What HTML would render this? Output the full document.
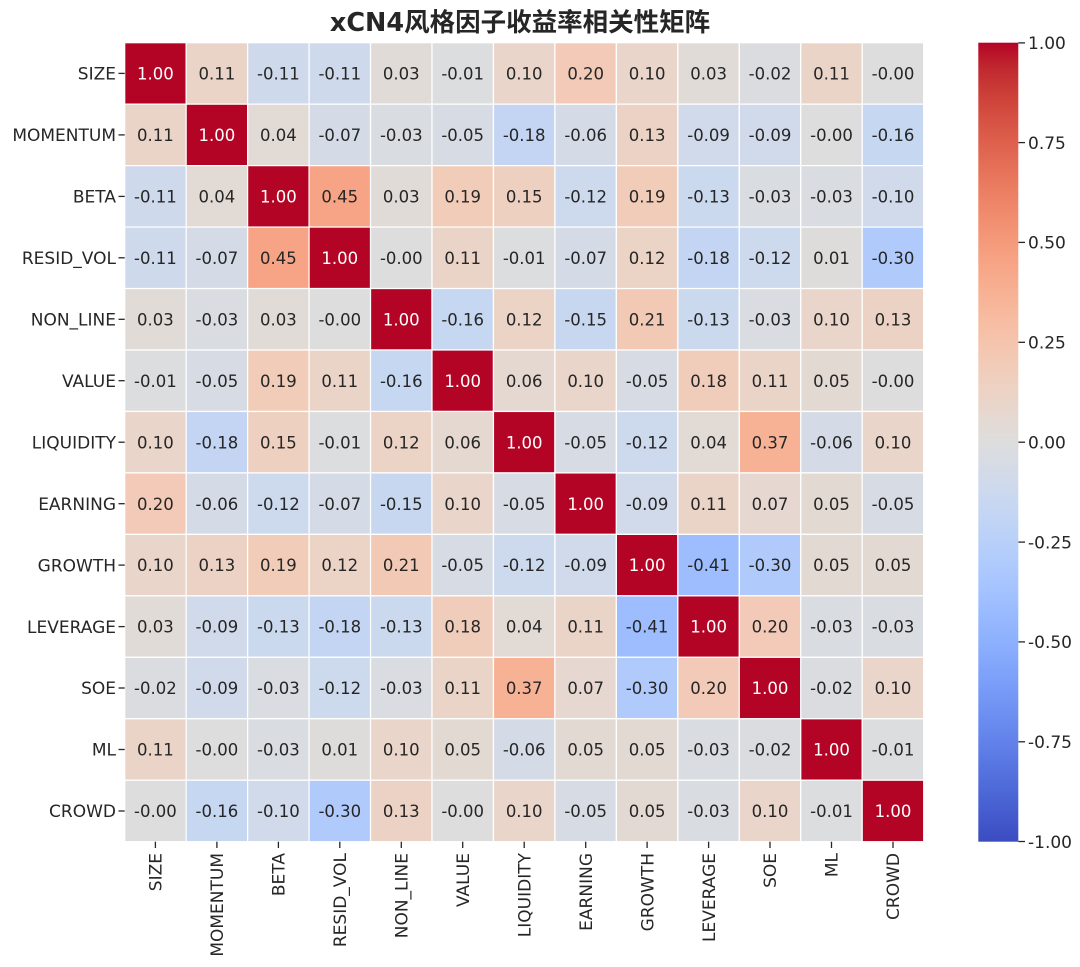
<!DOCTYPE html>
<html><head><meta charset="utf-8"><style>
html,body{margin:0;padding:0;background:#fff;}
svg{display:block;}
text{font-family:"DejaVu Sans","Noto Sans CJK SC",sans-serif;fill:#262626;}
.an text{font-size:16.5px;text-anchor:middle;}
.an text.w{fill:#fff;}
.yl text{font-size:17px;text-anchor:end;}
.xl text{font-size:17px;text-anchor:end;}
.cb text{font-size:17px;text-anchor:start;}
</style></head><body>
<svg width="1080" height="967" viewBox="0 0 1080 967" xmlns="http://www.w3.org/2000/svg">
<defs>
<linearGradient id="cw" x1="0" y1="0" x2="0" y2="1">
<stop offset="0%" stop-color="#b40426"/><stop offset="3.125%" stop-color="#c0282f"/><stop offset="6.25%" stop-color="#cb3e38"/><stop offset="9.375%" stop-color="#d55042"/><stop offset="12.5%" stop-color="#de604d"/><stop offset="15.625%" stop-color="#e57058"/><stop offset="18.75%" stop-color="#ec7f63"/><stop offset="21.875%" stop-color="#f18d6f"/><stop offset="25%" stop-color="#f49a7b"/><stop offset="28.125%" stop-color="#f7a687"/><stop offset="31.25%" stop-color="#f7b194"/><stop offset="34.375%" stop-color="#f7bba0"/><stop offset="37.5%" stop-color="#f5c4ad"/><stop offset="40.625%" stop-color="#f1ccb9"/><stop offset="43.75%" stop-color="#ecd3c5"/><stop offset="46.875%" stop-color="#e5d8d1"/><stop offset="50%" stop-color="#dddddd"/><stop offset="53.125%" stop-color="#d5dbe6"/><stop offset="56.25%" stop-color="#ccd9ee"/><stop offset="59.375%" stop-color="#c2d5f4"/><stop offset="62.5%" stop-color="#b8d0f9"/><stop offset="65.625%" stop-color="#aec9fd"/><stop offset="68.75%" stop-color="#a3c2ff"/><stop offset="71.875%" stop-color="#98b9ff"/><stop offset="75%" stop-color="#8db0fe"/><stop offset="78.125%" stop-color="#82a5fb"/><stop offset="81.25%" stop-color="#779af7"/><stop offset="84.375%" stop-color="#6c8ef1"/><stop offset="87.5%" stop-color="#6282ea"/><stop offset="90.625%" stop-color="#5775e1"/><stop offset="93.75%" stop-color="#4d68d7"/><stop offset="96.875%" stop-color="#445acc"/><stop offset="100%" stop-color="#3b4cc0"/>
</linearGradient>
</defs>
<rect x="0" y="0" width="1080" height="967" fill="#fff"/>

<text x="520" y="31" font-size="25.5" font-weight="700" text-anchor="middle">xCN4风格因子收益率相关性矩阵</text>

<g transform="translate(124.7 42.7) scale(61.46)" stroke="#fff" stroke-width="0.02">
<g transform="translate(0 0)"><rect x="0" y="0" width="1" height="1" fill="#b40426"/><rect x="1" y="0" width="1" height="1" fill="#ead4c8"/><rect x="2" y="0" width="1" height="1" fill="#ced9ec"/><rect x="3" y="0" width="1" height="1" fill="#ced9ec"/><rect x="4" y="0" width="1" height="1" fill="#e1dbd7"/><rect x="5" y="0" width="1" height="1" fill="#dcddde"/><rect x="6" y="0" width="1" height="1" fill="#e9d5ca"/><rect x="7" y="0" width="1" height="1" fill="#f2cab7"/><rect x="8" y="0" width="1" height="1" fill="#e9d5ca"/><rect x="9" y="0" width="1" height="1" fill="#e1dbd7"/><rect x="10" y="0" width="1" height="1" fill="#dadce0"/><rect x="11" y="0" width="1" height="1" fill="#ead4c8"/><rect x="12" y="0" width="1" height="1" fill="#dddddd"/></g>
<g transform="translate(0 1)"><rect x="0" y="0" width="1" height="1" fill="#ead4c8"/><rect x="1" y="0" width="1" height="1" fill="#b40426"/><rect x="2" y="0" width="1" height="1" fill="#e2dad5"/><rect x="3" y="0" width="1" height="1" fill="#d4dbe7"/><rect x="4" y="0" width="1" height="1" fill="#d9dce1"/><rect x="5" y="0" width="1" height="1" fill="#d7dbe4"/><rect x="6" y="0" width="1" height="1" fill="#c3d5f3"/><rect x="7" y="0" width="1" height="1" fill="#d5dbe6"/><rect x="8" y="0" width="1" height="1" fill="#ecd2c4"/><rect x="9" y="0" width="1" height="1" fill="#d1daea"/><rect x="10" y="0" width="1" height="1" fill="#d1daea"/><rect x="11" y="0" width="1" height="1" fill="#dddddd"/><rect x="12" y="0" width="1" height="1" fill="#c6d7f1"/></g>
<g transform="translate(0 2)"><rect x="0" y="0" width="1" height="1" fill="#ced9ec"/><rect x="1" y="0" width="1" height="1" fill="#e2dad5"/><rect x="2" y="0" width="1" height="1" fill="#b40426"/><rect x="3" y="0" width="1" height="1" fill="#f6a485"/><rect x="4" y="0" width="1" height="1" fill="#e1dbd7"/><rect x="5" y="0" width="1" height="1" fill="#f1ccb8"/><rect x="6" y="0" width="1" height="1" fill="#eed0c0"/><rect x="7" y="0" width="1" height="1" fill="#cdd9ed"/><rect x="8" y="0" width="1" height="1" fill="#f1ccb8"/><rect x="9" y="0" width="1" height="1" fill="#cbd9ee"/><rect x="10" y="0" width="1" height="1" fill="#d9dce1"/><rect x="11" y="0" width="1" height="1" fill="#d9dce1"/><rect x="12" y="0" width="1" height="1" fill="#d0daeb"/></g>
<g transform="translate(0 3)"><rect x="0" y="0" width="1" height="1" fill="#ced9ec"/><rect x="1" y="0" width="1" height="1" fill="#d4dbe7"/><rect x="2" y="0" width="1" height="1" fill="#f6a485"/><rect x="3" y="0" width="1" height="1" fill="#b40426"/><rect x="4" y="0" width="1" height="1" fill="#dddddd"/><rect x="5" y="0" width="1" height="1" fill="#ead4c8"/><rect x="6" y="0" width="1" height="1" fill="#dcddde"/><rect x="7" y="0" width="1" height="1" fill="#d4dbe7"/><rect x="8" y="0" width="1" height="1" fill="#ebd3c6"/><rect x="9" y="0" width="1" height="1" fill="#c3d5f3"/><rect x="10" y="0" width="1" height="1" fill="#cdd9ed"/><rect x="11" y="0" width="1" height="1" fill="#dedcdb"/><rect x="12" y="0" width="1" height="1" fill="#b0cafc"/></g>
<g transform="translate(0 4)"><rect x="0" y="0" width="1" height="1" fill="#e1dbd7"/><rect x="1" y="0" width="1" height="1" fill="#d9dce1"/><rect x="2" y="0" width="1" height="1" fill="#e1dbd7"/><rect x="3" y="0" width="1" height="1" fill="#dddddd"/><rect x="4" y="0" width="1" height="1" fill="#b40426"/><rect x="5" y="0" width="1" height="1" fill="#c6d7f1"/><rect x="6" y="0" width="1" height="1" fill="#ebd3c6"/><rect x="7" y="0" width="1" height="1" fill="#c8d7f0"/><rect x="8" y="0" width="1" height="1" fill="#f2c9b5"/><rect x="9" y="0" width="1" height="1" fill="#cbd9ee"/><rect x="10" y="0" width="1" height="1" fill="#d9dce1"/><rect x="11" y="0" width="1" height="1" fill="#e9d5ca"/><rect x="12" y="0" width="1" height="1" fill="#ecd2c4"/></g>
<g transform="translate(0 5)"><rect x="0" y="0" width="1" height="1" fill="#dcddde"/><rect x="1" y="0" width="1" height="1" fill="#d7dbe4"/><rect x="2" y="0" width="1" height="1" fill="#f1ccb8"/><rect x="3" y="0" width="1" height="1" fill="#ead4c8"/><rect x="4" y="0" width="1" height="1" fill="#c6d7f1"/><rect x="5" y="0" width="1" height="1" fill="#b40426"/><rect x="6" y="0" width="1" height="1" fill="#e5d8d1"/><rect x="7" y="0" width="1" height="1" fill="#e9d5ca"/><rect x="8" y="0" width="1" height="1" fill="#d7dbe4"/><rect x="9" y="0" width="1" height="1" fill="#f0cdba"/><rect x="10" y="0" width="1" height="1" fill="#ead4c8"/><rect x="11" y="0" width="1" height="1" fill="#e3d9d3"/><rect x="12" y="0" width="1" height="1" fill="#dddddd"/></g>
<g transform="translate(0 6)"><rect x="0" y="0" width="1" height="1" fill="#e9d5ca"/><rect x="1" y="0" width="1" height="1" fill="#c3d5f3"/><rect x="2" y="0" width="1" height="1" fill="#eed0c0"/><rect x="3" y="0" width="1" height="1" fill="#dcddde"/><rect x="4" y="0" width="1" height="1" fill="#ebd3c6"/><rect x="5" y="0" width="1" height="1" fill="#e5d8d1"/><rect x="6" y="0" width="1" height="1" fill="#b40426"/><rect x="7" y="0" width="1" height="1" fill="#d7dbe4"/><rect x="8" y="0" width="1" height="1" fill="#cdd9ed"/><rect x="9" y="0" width="1" height="1" fill="#e2dad5"/><rect x="10" y="0" width="1" height="1" fill="#f7b295"/><rect x="11" y="0" width="1" height="1" fill="#d5dbe6"/><rect x="12" y="0" width="1" height="1" fill="#e9d5ca"/></g>
<g transform="translate(0 7)"><rect x="0" y="0" width="1" height="1" fill="#f2cab7"/><rect x="1" y="0" width="1" height="1" fill="#d5dbe6"/><rect x="2" y="0" width="1" height="1" fill="#cdd9ed"/><rect x="3" y="0" width="1" height="1" fill="#d4dbe7"/><rect x="4" y="0" width="1" height="1" fill="#c8d7f0"/><rect x="5" y="0" width="1" height="1" fill="#e9d5ca"/><rect x="6" y="0" width="1" height="1" fill="#d7dbe4"/><rect x="7" y="0" width="1" height="1" fill="#b40426"/><rect x="8" y="0" width="1" height="1" fill="#d1daea"/><rect x="9" y="0" width="1" height="1" fill="#ead4c8"/><rect x="10" y="0" width="1" height="1" fill="#e6d7d0"/><rect x="11" y="0" width="1" height="1" fill="#e3d9d3"/><rect x="12" y="0" width="1" height="1" fill="#d7dbe4"/></g>
<g transform="translate(0 8)"><rect x="0" y="0" width="1" height="1" fill="#e9d5ca"/><rect x="1" y="0" width="1" height="1" fill="#ecd2c4"/><rect x="2" y="0" width="1" height="1" fill="#f1ccb8"/><rect x="3" y="0" width="1" height="1" fill="#ebd3c6"/><rect x="4" y="0" width="1" height="1" fill="#f2c9b5"/><rect x="5" y="0" width="1" height="1" fill="#d7dbe4"/><rect x="6" y="0" width="1" height="1" fill="#cdd9ed"/><rect x="7" y="0" width="1" height="1" fill="#d1daea"/><rect x="8" y="0" width="1" height="1" fill="#b40426"/><rect x="9" y="0" width="1" height="1" fill="#9dbdff"/><rect x="10" y="0" width="1" height="1" fill="#b0cafc"/><rect x="11" y="0" width="1" height="1" fill="#e3d9d3"/><rect x="12" y="0" width="1" height="1" fill="#e3d9d3"/></g>
<g transform="translate(0 9)"><rect x="0" y="0" width="1" height="1" fill="#e1dbd7"/><rect x="1" y="0" width="1" height="1" fill="#d1daea"/><rect x="2" y="0" width="1" height="1" fill="#cbd9ee"/><rect x="3" y="0" width="1" height="1" fill="#c3d5f3"/><rect x="4" y="0" width="1" height="1" fill="#cbd9ee"/><rect x="5" y="0" width="1" height="1" fill="#f0cdba"/><rect x="6" y="0" width="1" height="1" fill="#e2dad5"/><rect x="7" y="0" width="1" height="1" fill="#ead4c8"/><rect x="8" y="0" width="1" height="1" fill="#9dbdff"/><rect x="9" y="0" width="1" height="1" fill="#b40426"/><rect x="10" y="0" width="1" height="1" fill="#f2cab7"/><rect x="11" y="0" width="1" height="1" fill="#d9dce1"/><rect x="12" y="0" width="1" height="1" fill="#d9dce1"/></g>
<g transform="translate(0 10)"><rect x="0" y="0" width="1" height="1" fill="#dadce0"/><rect x="1" y="0" width="1" height="1" fill="#d1daea"/><rect x="2" y="0" width="1" height="1" fill="#d9dce1"/><rect x="3" y="0" width="1" height="1" fill="#cdd9ed"/><rect x="4" y="0" width="1" height="1" fill="#d9dce1"/><rect x="5" y="0" width="1" height="1" fill="#ead4c8"/><rect x="6" y="0" width="1" height="1" fill="#f7b295"/><rect x="7" y="0" width="1" height="1" fill="#e6d7d0"/><rect x="8" y="0" width="1" height="1" fill="#b0cafc"/><rect x="9" y="0" width="1" height="1" fill="#f2cab7"/><rect x="10" y="0" width="1" height="1" fill="#b40426"/><rect x="11" y="0" width="1" height="1" fill="#dadce0"/><rect x="12" y="0" width="1" height="1" fill="#e9d5ca"/></g>
<g transform="translate(0 11)"><rect x="0" y="0" width="1" height="1" fill="#ead4c8"/><rect x="1" y="0" width="1" height="1" fill="#dddddd"/><rect x="2" y="0" width="1" height="1" fill="#d9dce1"/><rect x="3" y="0" width="1" height="1" fill="#dedcdb"/><rect x="4" y="0" width="1" height="1" fill="#e9d5ca"/><rect x="5" y="0" width="1" height="1" fill="#e3d9d3"/><rect x="6" y="0" width="1" height="1" fill="#d5dbe6"/><rect x="7" y="0" width="1" height="1" fill="#e3d9d3"/><rect x="8" y="0" width="1" height="1" fill="#e3d9d3"/><rect x="9" y="0" width="1" height="1" fill="#d9dce1"/><rect x="10" y="0" width="1" height="1" fill="#dadce0"/><rect x="11" y="0" width="1" height="1" fill="#b40426"/><rect x="12" y="0" width="1" height="1" fill="#dcddde"/></g>
<g transform="translate(0 12)"><rect x="0" y="0" width="1" height="1" fill="#dddddd"/><rect x="1" y="0" width="1" height="1" fill="#c6d7f1"/><rect x="2" y="0" width="1" height="1" fill="#d0daeb"/><rect x="3" y="0" width="1" height="1" fill="#b0cafc"/><rect x="4" y="0" width="1" height="1" fill="#ecd2c4"/><rect x="5" y="0" width="1" height="1" fill="#dddddd"/><rect x="6" y="0" width="1" height="1" fill="#e9d5ca"/><rect x="7" y="0" width="1" height="1" fill="#d7dbe4"/><rect x="8" y="0" width="1" height="1" fill="#e3d9d3"/><rect x="9" y="0" width="1" height="1" fill="#d9dce1"/><rect x="10" y="0" width="1" height="1" fill="#e9d5ca"/><rect x="11" y="0" width="1" height="1" fill="#dcddde"/><rect x="12" y="0" width="1" height="1" fill="#b40426"/></g>
</g>

<g class="an">
<g transform="translate(0 79.5)"><text x="155.4" class="w">1.00</text><text x="216.9">0.11</text><text x="278.4">-0.11</text><text x="339.8">-0.11</text><text x="401.3">0.03</text><text x="462.7">-0.01</text><text x="524.2">0.10</text><text x="585.7">0.20</text><text x="647.1">0.10</text><text x="708.6">0.03</text><text x="770.0">-0.02</text><text x="831.5">0.11</text><text x="893.0">-0.00</text></g>
<g transform="translate(0 141.0)"><text x="155.4">0.11</text><text x="216.9" class="w">1.00</text><text x="278.4">0.04</text><text x="339.8">-0.07</text><text x="401.3">-0.03</text><text x="462.7">-0.05</text><text x="524.2">-0.18</text><text x="585.7">-0.06</text><text x="647.1">0.13</text><text x="708.6">-0.09</text><text x="770.0">-0.09</text><text x="831.5">-0.00</text><text x="893.0">-0.16</text></g>
<g transform="translate(0 202.5)"><text x="155.4">-0.11</text><text x="216.9">0.04</text><text x="278.4" class="w">1.00</text><text x="339.8">0.45</text><text x="401.3">0.03</text><text x="462.7">0.19</text><text x="524.2">0.15</text><text x="585.7">-0.12</text><text x="647.1">0.19</text><text x="708.6">-0.13</text><text x="770.0">-0.03</text><text x="831.5">-0.03</text><text x="893.0">-0.10</text></g>
<g transform="translate(0 263.9)"><text x="155.4">-0.11</text><text x="216.9">-0.07</text><text x="278.4">0.45</text><text x="339.8" class="w">1.00</text><text x="401.3">-0.00</text><text x="462.7">0.11</text><text x="524.2">-0.01</text><text x="585.7">-0.07</text><text x="647.1">0.12</text><text x="708.6">-0.18</text><text x="770.0">-0.12</text><text x="831.5">0.01</text><text x="893.0">-0.30</text></g>
<g transform="translate(0 325.4)"><text x="155.4">0.03</text><text x="216.9">-0.03</text><text x="278.4">0.03</text><text x="339.8">-0.00</text><text x="401.3" class="w">1.00</text><text x="462.7">-0.16</text><text x="524.2">0.12</text><text x="585.7">-0.15</text><text x="647.1">0.21</text><text x="708.6">-0.13</text><text x="770.0">-0.03</text><text x="831.5">0.10</text><text x="893.0">0.13</text></g>
<g transform="translate(0 386.8)"><text x="155.4">-0.01</text><text x="216.9">-0.05</text><text x="278.4">0.19</text><text x="339.8">0.11</text><text x="401.3">-0.16</text><text x="462.7" class="w">1.00</text><text x="524.2">0.06</text><text x="585.7">0.10</text><text x="647.1">-0.05</text><text x="708.6">0.18</text><text x="770.0">0.11</text><text x="831.5">0.05</text><text x="893.0">-0.00</text></g>
<g transform="translate(0 448.3)"><text x="155.4">0.10</text><text x="216.9">-0.18</text><text x="278.4">0.15</text><text x="339.8">-0.01</text><text x="401.3">0.12</text><text x="462.7">0.06</text><text x="524.2" class="w">1.00</text><text x="585.7">-0.05</text><text x="647.1">-0.12</text><text x="708.6">0.04</text><text x="770.0">0.37</text><text x="831.5">-0.06</text><text x="893.0">0.10</text></g>
<g transform="translate(0 509.8)"><text x="155.4">0.20</text><text x="216.9">-0.06</text><text x="278.4">-0.12</text><text x="339.8">-0.07</text><text x="401.3">-0.15</text><text x="462.7">0.10</text><text x="524.2">-0.05</text><text x="585.7" class="w">1.00</text><text x="647.1">-0.09</text><text x="708.6">0.11</text><text x="770.0">0.07</text><text x="831.5">0.05</text><text x="893.0">-0.05</text></g>
<g transform="translate(0 571.2)"><text x="155.4">0.10</text><text x="216.9">0.13</text><text x="278.4">0.19</text><text x="339.8">0.12</text><text x="401.3">0.21</text><text x="462.7">-0.05</text><text x="524.2">-0.12</text><text x="585.7">-0.09</text><text x="647.1" class="w">1.00</text><text x="708.6">-0.41</text><text x="770.0">-0.30</text><text x="831.5">0.05</text><text x="893.0">0.05</text></g>
<g transform="translate(0 632.7)"><text x="155.4">0.03</text><text x="216.9">-0.09</text><text x="278.4">-0.13</text><text x="339.8">-0.18</text><text x="401.3">-0.13</text><text x="462.7">0.18</text><text x="524.2">0.04</text><text x="585.7">0.11</text><text x="647.1">-0.41</text><text x="708.6" class="w">1.00</text><text x="770.0">0.20</text><text x="831.5">-0.03</text><text x="893.0">-0.03</text></g>
<g transform="translate(0 694.1)"><text x="155.4">-0.02</text><text x="216.9">-0.09</text><text x="278.4">-0.03</text><text x="339.8">-0.12</text><text x="401.3">-0.03</text><text x="462.7">0.11</text><text x="524.2">0.37</text><text x="585.7">0.07</text><text x="647.1">-0.30</text><text x="708.6">0.20</text><text x="770.0" class="w">1.00</text><text x="831.5">-0.02</text><text x="893.0">0.10</text></g>
<g transform="translate(0 755.6)"><text x="155.4">0.11</text><text x="216.9">-0.00</text><text x="278.4">-0.03</text><text x="339.8">0.01</text><text x="401.3">0.10</text><text x="462.7">0.05</text><text x="524.2">-0.06</text><text x="585.7">0.05</text><text x="647.1">0.05</text><text x="708.6">-0.03</text><text x="770.0">-0.02</text><text x="831.5" class="w">1.00</text><text x="893.0">-0.01</text></g>
<g transform="translate(0 817.1)"><text x="155.4">-0.00</text><text x="216.9">-0.16</text><text x="278.4">-0.10</text><text x="339.8">-0.30</text><text x="401.3">0.13</text><text x="462.7">-0.00</text><text x="524.2">0.10</text><text x="585.7">-0.05</text><text x="647.1">0.05</text><text x="708.6">-0.03</text><text x="770.0">0.10</text><text x="831.5">-0.01</text><text x="893.0" class="w">1.00</text></g>
</g>

<g stroke="#262626" stroke-width="1.3">
<line x1="118.5" y1="73.4" x2="124.7" y2="73.4"/><line x1="118.5" y1="134.9" x2="124.7" y2="134.9"/><line x1="118.5" y1="196.4" x2="124.7" y2="196.4"/><line x1="118.5" y1="257.8" x2="124.7" y2="257.8"/><line x1="118.5" y1="319.3" x2="124.7" y2="319.3"/><line x1="118.5" y1="380.7" x2="124.7" y2="380.7"/><line x1="118.5" y1="442.2" x2="124.7" y2="442.2"/><line x1="118.5" y1="503.7" x2="124.7" y2="503.7"/><line x1="118.5" y1="565.1" x2="124.7" y2="565.1"/><line x1="118.5" y1="626.6" x2="124.7" y2="626.6"/><line x1="118.5" y1="688.0" x2="124.7" y2="688.0"/><line x1="118.5" y1="749.5" x2="124.7" y2="749.5"/><line x1="118.5" y1="811.0" x2="124.7" y2="811.0"/>
<line x1="155.4" y1="841.7" x2="155.4" y2="848"/><line x1="216.9" y1="841.7" x2="216.9" y2="848"/><line x1="278.4" y1="841.7" x2="278.4" y2="848"/><line x1="339.8" y1="841.7" x2="339.8" y2="848"/><line x1="401.3" y1="841.7" x2="401.3" y2="848"/><line x1="462.7" y1="841.7" x2="462.7" y2="848"/><line x1="524.2" y1="841.7" x2="524.2" y2="848"/><line x1="585.7" y1="841.7" x2="585.7" y2="848"/><line x1="647.1" y1="841.7" x2="647.1" y2="848"/><line x1="708.6" y1="841.7" x2="708.6" y2="848"/><line x1="770.0" y1="841.7" x2="770.0" y2="848"/><line x1="831.5" y1="841.7" x2="831.5" y2="848"/><line x1="893.0" y1="841.7" x2="893.0" y2="848"/>
<line x1="1018.3" y1="42.9" x2="1025" y2="42.9"/><line x1="1018.3" y1="142.6" x2="1025" y2="142.6"/><line x1="1018.3" y1="242.4" x2="1025" y2="242.4"/><line x1="1018.3" y1="342.3" x2="1025" y2="342.3"/><line x1="1018.3" y1="442.2" x2="1025" y2="442.2"/><line x1="1018.3" y1="542.1" x2="1025" y2="542.1"/><line x1="1018.3" y1="641.9" x2="1025" y2="641.9"/><line x1="1018.3" y1="741.8" x2="1025" y2="741.8"/><line x1="1018.3" y1="841.5" x2="1025" y2="841.5"/>
</g>

<g class="yl">
<text x="116" y="79.6">SIZE</text><text x="116" y="141.1">MOMENTUM</text><text x="116" y="202.6">BETA</text><text x="116" y="264.0">RESID_VOL</text><text x="116" y="325.5">NON_LINE</text><text x="116" y="386.9">VALUE</text><text x="116" y="448.4">LIQUIDITY</text><text x="116" y="509.9">EARNING</text><text x="116" y="571.3">GROWTH</text><text x="116" y="632.8">LEVERAGE</text><text x="116" y="694.2">SOE</text><text x="116" y="755.7">ML</text><text x="116" y="817.2">CROWD</text>
</g>

<g class="xl">
<text transform="translate(161.6 853) rotate(-90)">SIZE</text>
<text transform="translate(223.1 853) rotate(-90)">MOMENTUM</text>
<text transform="translate(284.6 853) rotate(-90)">BETA</text>
<text transform="translate(346.0 853) rotate(-90)">RESID_VOL</text>
<text transform="translate(407.5 853) rotate(-90)">NON_LINE</text>
<text transform="translate(468.9 853) rotate(-90)">VALUE</text>
<text transform="translate(530.4 853) rotate(-90)">LIQUIDITY</text>
<text transform="translate(591.9 853) rotate(-90)">EARNING</text>
<text transform="translate(653.3 853) rotate(-90)">GROWTH</text>
<text transform="translate(714.8 853) rotate(-90)">LEVERAGE</text>
<text transform="translate(776.2 853) rotate(-90)">SOE</text>
<text transform="translate(837.7 853) rotate(-90)">ML</text>
<text transform="translate(899.2 853) rotate(-90)">CROWD</text>
</g>

<rect x="978.3" y="42.7" width="40" height="799" fill="url(#cw)"/>

<g class="cb">
<text x="1028" y="49.1">1.00</text><text x="1028" y="148.8">0.75</text><text x="1028" y="248.6">0.50</text><text x="1028" y="348.5">0.25</text><text x="1028" y="448.4">0.00</text><text x="1028" y="548.3">-0.25</text><text x="1028" y="648.1">-0.50</text><text x="1028" y="748">-0.75</text><text x="1028" y="847.8">-1.00</text>
</g>
</svg>
</body></html>
